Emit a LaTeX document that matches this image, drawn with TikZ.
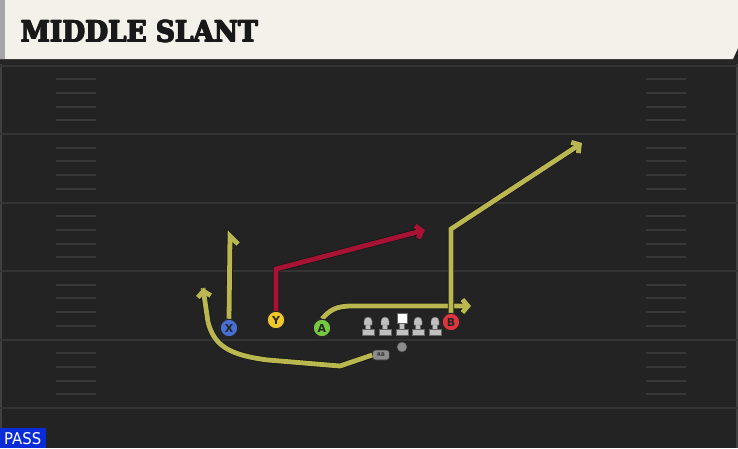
\documentclass[tikz,border=0pt]{standalone}
\usepackage{fontspec}
\usetikzlibrary{arrows.meta}
\newfontfamily\titlefont{DejaVu Serif}
\newfontfamily\labelfont{DejaVu Sans}
\definecolor{fieldbg}{RGB}{35,35,35}
\definecolor{yardline}{RGB}{52,52,52}
\definecolor{hashc}{RGB}{56,56,56}
\definecolor{cream}{RGB}{244,241,234}
\definecolor{olive}{RGB}{186,183,80}
\definecolor{crimson}{RGB}{168,18,52}
\definecolor{xblue}{RGB}{72,112,212}
\definecolor{yyellow}{RGB}{240,200,40}
\definecolor{agreen}{RGB}{118,200,64}
\definecolor{bred}{RGB}{222,52,62}
\definecolor{passblue}{RGB}{10,44,216}
\definecolor{pingray}{RGB}{192,192,192}
\tikzset{
  route/.style={line width=4.8pt, line join=miter, olive,
    preaction={draw=black!90, line width=6.4pt}},
  redroute/.style={route, crimson},
  tipped/.style={-{Straight Barb[length=5.5pt,width=13pt]}},
  player/.style={circle, minimum size=17.5pt, inner sep=0pt, draw=black!85,
    line width=1pt, font=\labelfont\bfseries\fontsize{11}{11}\selectfont, text=black!85},
  yard/.style={yardline, line width=2pt},
  hash/.style={hashc, line width=2pt},
  pinhead/.style={fill=pingray, draw=black!60, line width=0.4pt},
}
\begin{document}
\begin{tikzpicture}[x=1pt,y=-1pt]
\useasboundingbox (0,0) rectangle (738,448);
% field
\fill[fieldbg] (0,0) rectangle (738,448);
\fill[black!85] (0,57) rectangle (738,64);
\fill[black!75] (0,64) rectangle (2,448);
\fill[black!75] (736,64) rectangle (738,448);
% yard lines
\foreach \k in {0,...,5} {
  \draw[yard] (0,{65.5+68.5*\k}) -- (738,{65.5+68.5*\k});
}
\foreach \k in {0,...,4} {
  \foreach \j in {1,...,4} {
    \draw[hash] (56,{65.5+68.5*\k+13.7*\j}) -- (96,{65.5+68.5*\k+13.7*\j});
    \draw[hash] (646,{65.5+68.5*\k+13.7*\j}) -- (686,{65.5+68.5*\k+13.7*\j});
  }
}
% header
\fill[cream] (0,0) -- (738,0) -- (738,48) -- (733,59) -- (0,59) -- cycle;
\fill[black!35] (0,0) rectangle (5,59);
\foreach \dx/\dy in {0/0,0.6/0,1.2/0,0/0.5,0.6/0.5,1.2/0.5} {
  \node[anchor=south west, inner sep=0pt, text=black!90] at (20+\dx,43-\dy)
    {\resizebox{237pt}{21.5pt}{\titlefont\bfseries MIDDLE SLANT}};
}
\coordinate (title) at (139,32);
% PASS tag
\fill[passblue] (0,428) rectangle (46,448);
\node[anchor=south west, inner sep=0pt, text=white] (pass) at (4,445)
  {\resizebox{37pt}{12pt}{\labelfont PASS}};
% linemen
\foreach \x/\n in {368/l1,385/l2,418/l4,435/l5} {
  \fill[pinhead] (\x-6,335) rectangle (\x+6,329);
  \fill[pinhead] (\x-2.5,329) rectangle (\x+2.5,322);
  \fill[pinhead] (\x-4,325) -- (\x-4,321) arc[start angle=180, end angle=360, radius=4] -- (\x+4,325) -- cycle;
  \coordinate (\n) at (\x,328);
}
\fill[pinhead] (396,335) rectangle (408,329);
\fill[pinhead] (399.5,329) rectangle (404.5,322);
\fill[white, draw=black!60, line width=0.4pt] (397,313) rectangle (407,323);
\coordinate (l3) at (402,328);
% QB
\node[circle, fill=black!45, draw=black!70, line width=0.5pt, minimum size=10pt, inner sep=0pt] (qb) at (402,347) {};
% RB
\node[rounded corners=3pt, fill=black!45, draw=black!80, line width=0.6pt, minimum width=17pt, minimum height=10pt,
  inner sep=0pt, font=\labelfont\bfseries\fontsize{5}{5}\selectfont, text=black!80] (rb) at (381,355) {RB};
% players
\node[player, fill=xblue] (X) at (229,328) {X};
\node[player, fill=yyellow] (Y) at (276,320) {Y};
\node[player, fill=agreen] (A) at (322,328) {A};
\node[player, fill=bred] (B) at (451,322) {B};
% route coordinates
\coordinate (xtop) at (230,236);
\coordinate (xbarb) at (238,244);
\coordinate (ycorner) at (276,269);
\coordinate (yend) at (425,230);
\coordinate (aend) at (471,306);
\coordinate (bcorner) at (451,229);
\coordinate (bend) at (582,143);
\coordinate (rbend) at (203,288);
% routes
\draw[route] (rb.west) -- (340,366) -- (268,360) .. controls (228,355) and (214,345) .. (208,322) -- (rbend);
\draw[route, tipped] (208,322) -- (rbend);
\draw[route] (X.north) -- (xtop) -- (xbarb);
\draw[redroute, tipped] (Y.north) -- (ycorner) -- (yend);
\draw[route, tipped] (A.north) .. controls (330,310) and (336,306) .. (352,306) -- (aend);
\draw[route, tipped] (B.north) -- (bcorner) -- (bend);
% redraw players on top
\node[player, fill=xblue] at (X) {X};
\node[player, fill=yyellow] at (Y) {Y};
\node[player, fill=agreen] at (A) {A};
\node[player, fill=bred] at (B) {B};
\end{tikzpicture}
\end{document}
